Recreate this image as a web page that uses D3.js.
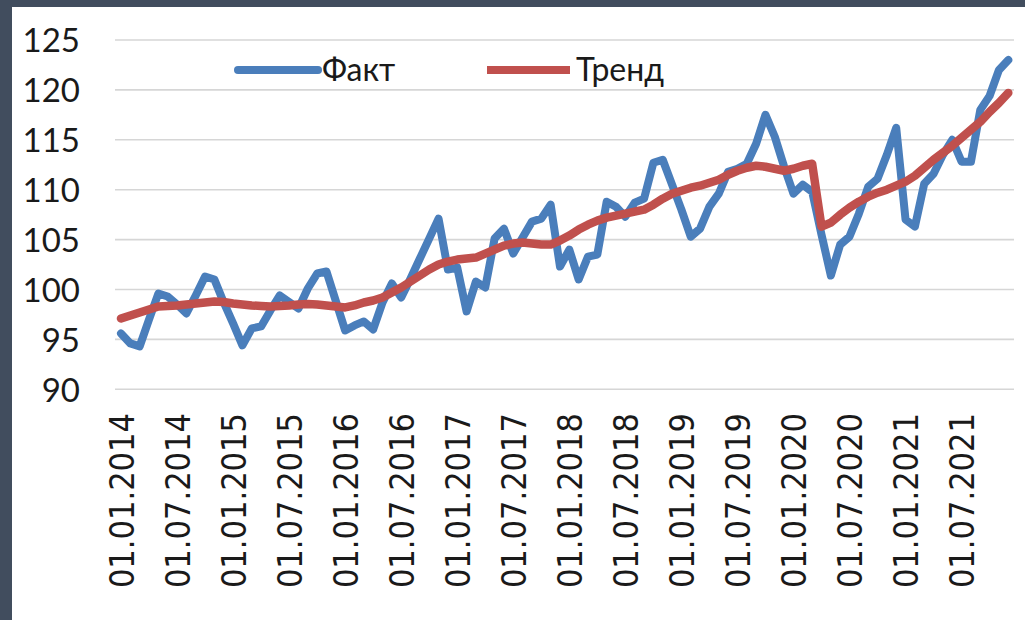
<!DOCTYPE html>
<html>
<head>
<meta charset="utf-8">
<script src="https://cdn.jsdelivr.net/npm/d3@7"></script>
<style>
  html, body { margin: 0; padding: 0; background: #ffffff; }
  svg { display: block; }
</style>
</head>
<body>
<svg id="chart" width="1025" height="620"></svg>
<script>
// ---- data ----
const seriesNames = ["Факт", "Тренд"];
const months = d3.timeMonth.range(new Date(2014, 0, 1), new Date(2022, 0, 1)); // 96 monthly categories
const fact = [
  95.6, 94.6, 94.3, 97.0, 99.6, 99.3, 98.5, 97.6, 99.4, 101.3, 101.0, 98.7,
  96.6, 94.4, 96.1, 96.3, 97.9, 99.4, 98.75, 98.1, 100.1, 101.6, 101.8, 98.85,
  95.9, 96.4, 96.8, 96.0, 98.7, 100.6, 99.2, 101.1, 103.1, 105.1, 107.1, 102.0,
  102.2, 97.8, 100.8, 100.2, 105.1, 106.1, 103.6, 105.2, 106.8, 107.1, 108.5, 102.3,
  104.0, 101.0, 103.3, 103.5, 108.8, 108.3, 107.3, 108.7, 109.1, 112.7, 113.0, 110.5,
  108.0, 105.3, 106.1, 108.3, 109.6, 111.8, 112.1, 112.6, 114.6, 117.5, 115.3, 112.3,
  109.6, 110.5, 109.8, 105.5, 101.4, 104.5, 105.3, 107.6, 110.3, 111.1, 113.5, 116.2,
  107.0, 106.3, 110.6, 111.6, 113.5, 115.0, 112.8, 112.8, 118.0, 119.4, 122.0, 123.0
];
const trend = [
  97.1, 97.4, 97.7, 98.0, 98.3, 98.35, 98.4, 98.5, 98.6, 98.7, 98.8, 98.75,
  98.6, 98.5, 98.4, 98.35, 98.3, 98.35, 98.4, 98.5, 98.55, 98.5, 98.4, 98.3,
  98.2, 98.4, 98.7, 98.9, 99.2, 99.7, 100.2, 100.8, 101.4, 102.0, 102.5, 102.8,
  103.0, 103.1, 103.2, 103.6, 104.0, 104.4, 104.6, 104.7, 104.6, 104.5, 104.5, 104.9,
  105.4, 106.0, 106.5, 106.9, 107.2, 107.4, 107.6, 107.8, 108.0, 108.5, 109.1, 109.6,
  109.9, 110.2, 110.4, 110.7, 111.0, 111.5, 111.9, 112.2, 112.4, 112.3, 112.1, 111.9,
  112.1, 112.4, 112.6, 106.3, 106.7, 107.5, 108.2, 108.8, 109.3, 109.7, 110.0, 110.4,
  110.8, 111.4, 112.2, 113.0, 113.7, 114.4, 115.2, 116.0, 116.8, 117.8, 118.7, 119.7
];
const yTicks = [90, 95, 100, 105, 110, 115, 120, 125];
const xTickLabels = [
  "01.01.2014", "01.07.2014", "01.01.2015", "01.07.2015", "01.01.2016", "01.07.2016",
  "01.01.2017", "01.07.2017", "01.01.2018", "01.07.2018", "01.01.2019", "01.07.2019",
  "01.01.2020", "01.07.2020", "01.01.2021", "01.07.2021"
];

// ---- styles ----
const colFact = "#4a7ebb";
const colTrend = "#c0504d";
const fmt = d3.timeFormat("%d.%m.%Y");

const svg = d3.select("#chart");

// frame
svg.append("rect").attr("x", 0).attr("y", 0).attr("width", 1025).attr("height", 620).attr("fill", "#ffffff");
svg.append("rect").attr("x", 0).attr("y", 0).attr("width", 1025).attr("height", 7).attr("fill", "#414d5e");
svg.append("rect").attr("x", 0).attr("y", 0).attr("width", 12).attr("height", 620).attr("fill", "#414d5e");

const x = d3.scalePoint().domain(months.map(fmt)).range([121, 1008.3]);
const y = d3.scaleLinear().domain([90, 125]).range([389.3, 40]);

// gridlines
svg.append("g").selectAll("line").data(yTicks).join("line")
  .attr("x1", 115).attr("x2", 1014)
  .attr("y1", d => y(d)).attr("y2", d => y(d))
  .attr("stroke", "#d6d6d6").attr("stroke-width", 1.6);

// y axis labels
const yAxis = d3.axisLeft(y).tickValues(yTicks).tickSize(0).tickPadding(0);
const gy = svg.append("g").attr("transform", "translate(80,0)").call(yAxis);
gy.select(".domain").remove();
gy.selectAll("text")
  .attr("font-family", "Lato, 'Open Sans', sans-serif")
  .attr("font-size", 33)
  .attr("fill", "#1a1a1a")
  .attr("dy", "0.36em");

// x axis labels
const xAxis = d3.axisBottom(x).tickValues(xTickLabels).tickSize(0).tickPadding(0);
const gx = svg.append("g").attr("transform", "translate(0,413)").call(xAxis);
gx.select(".domain").remove();
gx.selectAll("text")
  .attr("font-family", "'DejaVu Sans Condensed', 'DejaVu Sans', sans-serif")
  .style("font-stretch", "condensed")
  .attr("font-size", 34)
  .attr("fill", "#1a1a1a")
  .attr("text-anchor", "end")
  .attr("transform", "rotate(-90)")
  .attr("x", 0)
  .attr("y", 0)
  .attr("dy", "0.36em");

// lines
const line = d3.line().x((d, i) => x(fmt(months[i]))).y(d => y(d));
svg.append("path").datum(fact).attr("d", line)
  .attr("fill", "none").attr("stroke", colFact).attr("stroke-width", 8)
  .attr("stroke-linejoin", "round").attr("stroke-linecap", "round");
svg.append("path").datum(trend).attr("d", line)
  .attr("fill", "none").attr("stroke", colTrend).attr("stroke-width", 8.5)
  .attr("stroke-linejoin", "round").attr("stroke-linecap", "round");

// legend
const legend = [
  { name: seriesNames[0], color: colFact, x1: 238, x2: 318, tx: 322, cap: "round" },
  { name: seriesNames[1], color: colTrend, x1: 487, x2: 570, tx: 576, cap: "butt" }
];
const lg = svg.append("g");
legend.forEach(l => {
  lg.append("line").attr("x1", l.x1).attr("x2", l.x2).attr("y1", 70).attr("y2", 70)
    .attr("stroke", l.color).attr("stroke-width", 8).attr("stroke-linecap", l.cap);
  lg.append("text").attr("x", l.tx).attr("y", 81).text(l.name)
    .attr("font-family", "Lato, 'Open Sans', sans-serif")
    .attr("font-size", 32).attr("fill", "#1a1a1a");
});
</script>
</body>
</html>
